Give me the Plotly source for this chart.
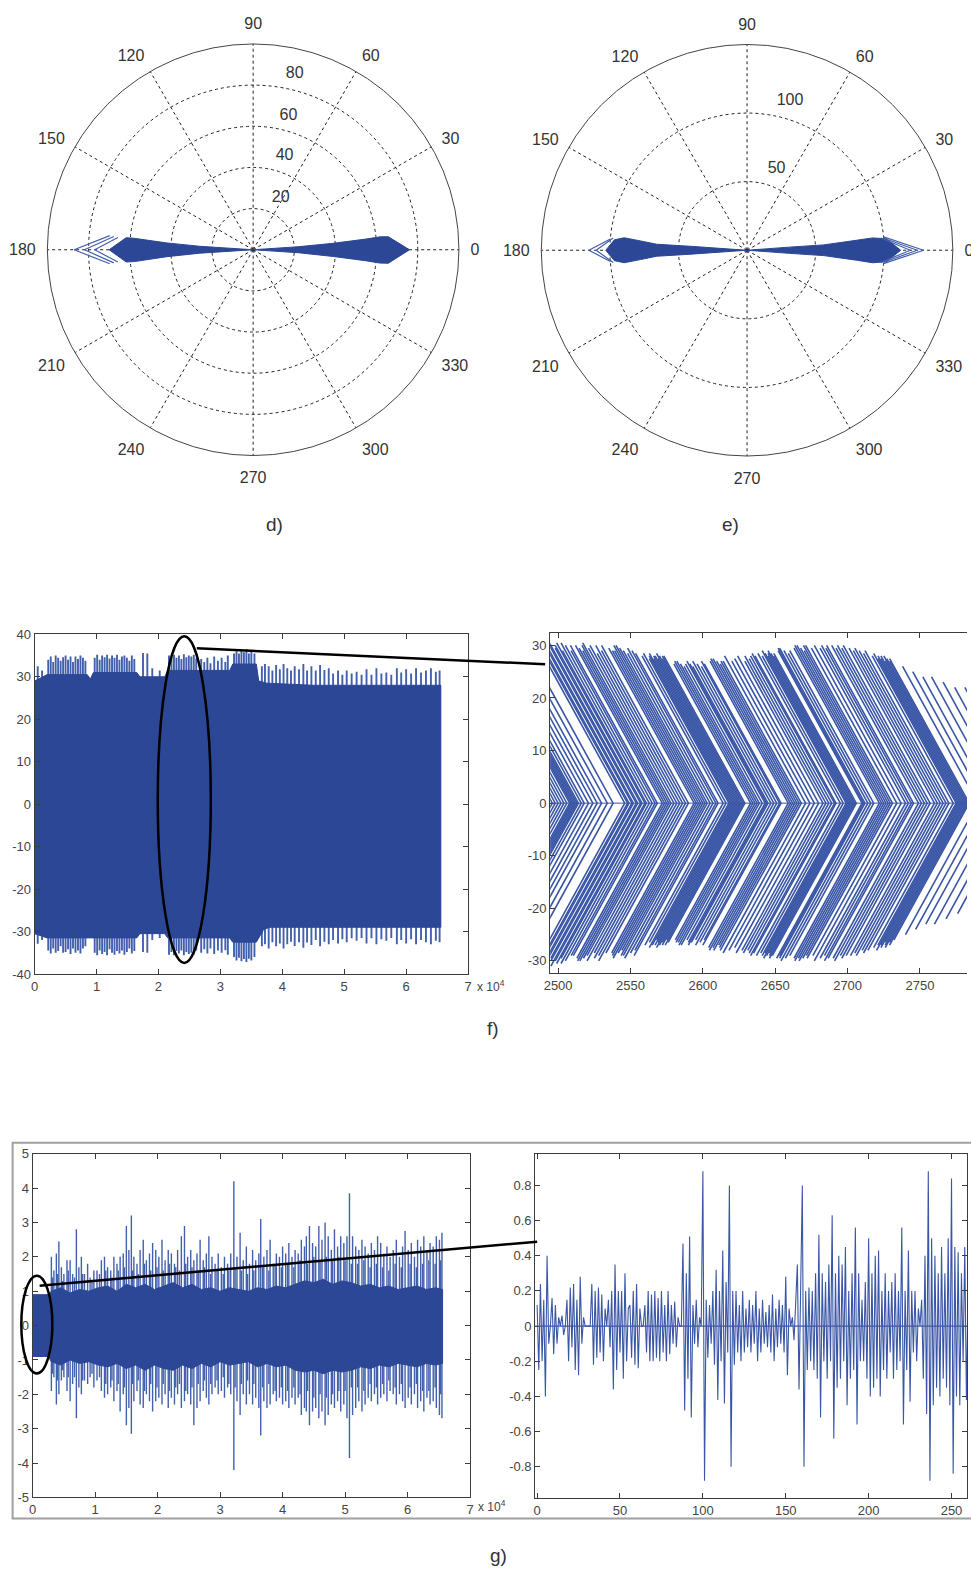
import plotly.graph_objects as go

W, H = 971, 1569

# ---------------- d) polar data ----------------
d_right_r = [0, 22, 39, 55, 62, 66, 76, 66, 62, 55, 39, 22, 0]
d_right_theta = [0, 3.8, 4.6, 5.4, 5.8, 5.5, 0, -5.7, -6.0, -5.6, -4.8, -3.8, 0]
d_left_r = [0, 26, 42, 58, 62, 70, 62, 58, 42, 26, 0]
d_left_theta = [180, 176.3, 175.5, 174.5, 174.6, 180, 185.5, 185.7, 184.6, 183.7, 180]
d_tip_r = [70, 87, 70, None, 68, 82, 68, None, 66, 77, 66]
d_tip_theta = [174.4, 180, 185.6, None, 174.6, 180, 185.4, None, 174.8, 180, 185.2]
d_ring_text = ["20", "40", "60", "80", "100"]
d_ring_r = [28.6, 48.1, 67.3, 87.8, 108.5]
d_ring_theta = [62, 71.5, 75.2, 76.7, 76.2]

# ---------------- e) polar data ----------------
e_right_r = [0, 31, 56, 80, 92, 102, 112, 102, 92, 80, 56, 31, 0]
e_right_theta = [0, 4.2, 4.0, 5.2, 5.6, 4.7, 0, -4.7, -5.7, -5.2, -4.0, -4.2, 0]
e_rtip_r = [100, 128.7, 100, None, 100, 124, 100, None, 98, 119, 98]
e_rtip_theta = [5.6, 0, -5.6, None, 5.0, 0, -5.0, None, 5.2, 0, -5.2]
e_left_r = [0, 41, 66, 78, 90, 97, 103, 97, 90, 78, 66, 41, 0]
e_left_theta = [180, 176, 176.2, 175.0, 174.2, 175.5, 180, 184.5, 185.8, 185.0, 183.8, 184, 180]
e_ltip_r = [100, 115.3, 100, None, 98, 110, 98]
e_ltip_theta = [175.3, 180, 184.7, None, 174.8, 180, 185.2]
e_ring_text = ["50", "100", "150"]
e_ring_r = [63, 113, 163]
e_ring_theta = [70, 73.9, 76.3]

ang_vals = [0, 30, 60, 90, 120, 150, 180, 210, 240, 270, 300, 330]
ang_text = [str(v) for v in ang_vals]

# ---------------- f) left: full record ----------------
fl_core_top_x = [0, 0.2, 0.85, 0.9, 0.95, 1.65, 1.7, 2.1, 2.15, 3.15, 3.2, 3.58, 3.62, 3.75, 4.5, 5.5, 6.56]
fl_core_top_y = [29, 30.5, 30.5, 29.5, 31, 31, 30, 30, 31.5, 31.5, 33, 33, 29, 28.5, 28, 28, 28]
fl_core_bot_x = [0, 0.2, 1.65, 1.7, 2.1, 2.15, 3.15, 3.2, 3.58, 3.7, 3.8, 5.0, 6.56]
fl_core_bot_y = [-30.5, -31.5, -31.5, -30.5, -30.5, -31.5, -31.5, -32.5, -32.5, -29.5, -29, -29, -29]
fl_spike_x = [0.05, 0.12,
              0.22, 0.26, 0.30, 0.34, 0.38, 0.42, 0.46, 0.50, 0.54, 0.58, 0.62, 0.66, 0.70, 0.74, 0.78, 0.82,
              0.97, 1.01, 1.05, 1.09, 1.13, 1.17, 1.21, 1.25, 1.29, 1.33, 1.37, 1.41, 1.45, 1.49, 1.53, 1.57, 1.61,
              1.75, 1.82, 1.90, 2.02,
              2.17, 2.21, 2.25, 2.29, 2.33, 2.37, 2.41, 2.45, 2.49, 2.53, 2.57, 2.61,
              2.69, 2.74, 2.79, 2.84, 2.90, 2.96, 3.02, 3.08, 3.12,
              3.22, 3.26, 3.30, 3.34, 3.38, 3.42, 3.46, 3.50, 3.55,
              3.67, 3.72, 3.78, 3.84, 3.90, 3.96, 4.02, 4.08, 4.14, 4.20, 4.27, 4.34, 4.40, 4.47, 4.54, 4.61,
              4.68, 4.75, 4.82, 4.90, 4.97, 5.04, 5.12, 5.20, 5.28, 5.36, 5.44, 5.52, 5.60, 5.68, 5.76, 5.85,
              5.92, 6.00, 6.08, 6.16, 6.24, 6.32, 6.40, 6.48, 6.54]
fl_spike_top = [32.5, 31.5,
                34, 34.8, 33.5, 35, 34.5, 33.8, 34.6, 35, 34, 34.8, 33.5, 34.8, 34.2, 35, 34.5, 33.8,
                34.5, 35.2, 34, 35, 34.6, 35.2, 34.3, 35, 34.5, 35.2, 34, 34.8, 35, 34.5, 33.8, 35, 34.2,
                35.6, 35.5, 32, 31.5,
                35, 34.5, 35.2, 34.5, 35, 34.2, 35.3, 34.6, 35, 34.8, 35.2, 34.3,
                34.2, 33.5, 34.5, 33.2, 34.8, 33.8, 34.5, 33.5, 35,
                35.5, 36, 35.5, 36.3, 35.8, 36.5, 35.5, 36, 35.5,
                32.5, 33, 32.5, 31.5, 32.8, 31.8, 33, 32, 31.5, 32.5, 31.8, 33, 31.5, 32.5, 31.5, 32.8,
                31.6, 32, 30.8, 31.5, 30.5, 31.5, 30.8, 31.2, 30.5, 31.8, 30.5, 32, 30.8, 31, 30.5, 32,
                31, 31.8, 30.8, 32, 31, 31.5, 32, 31.2, 31.5]
fl_spike_bot = [-32.9, -32,
                -34.5, -35.2, -34, -35, -34.6, -33.5, -35, -34.8, -34.2, -35.3, -34, -35, -34.5, -35.2, -34, -33.5,
                -35, -35.6, -34.5, -35.3, -34.8, -35.6, -34.2, -35, -35.5, -34.6, -35.2, -34.5, -35.5, -34.8, -34, -35.2, -34.6,
                -34.8, -35, -32, -31.5,
                -35.5, -34.8, -35.6, -34.6, -35.2, -34.5, -35.6, -34.8, -35.3, -35, -35.5, -34.5,
                -35, -34.2, -35.2, -34, -35.3, -34.5, -35, -34.4, -35.5,
                -36, -36.8, -36.2, -37, -36.5, -37.2, -36.4, -36.8, -36,
                -33.5, -33, -34, -32.5, -33.5, -32.8, -34, -33, -32.4, -33.4, -32.5, -33.8, -32.6, -33.2, -32, -33.5,
                -32.4, -33, -32, -32.8, -31.8, -32.5, -31.6, -32.2, -31.5, -32.8, -31.6, -33, -31.8, -32.2, -31.5, -33,
                -32, -32.8, -31.8, -33, -32, -32.5, -33, -32.2, -32.5]

# ---------------- f) right: zoomed chevrons ----------------
fr_apex = [2496, 2498, 2500, 2502, 2504, 2506, 2508, 2509, 2510, 2511, 2512, 2513, 2514, 2516, 2518, 2521, 2524, 2527, 2530, 2534, 2538,
           2546, 2548, 2549, 2551, 2552, 2554, 2555, 2557, 2558, 2560, 2561, 2563, 2565, 2567, 2568.5,
           2572, 2573.5, 2575, 2576.5, 2578, 2580, 2582, 2584, 2586, 2588, 2590,
           2594, 2595.5, 2597, 2598.5, 2600, 2601.5, 2603, 2605, 2607, 2609, 2610.5,
           2614, 2616, 2618, 2619, 2620, 2621, 2622, 2623, 2624, 2625, 2626, 2627, 2628, 2629,
           2633, 2634.5, 2636, 2637.5, 2639, 2641, 2643, 2644, 2645, 2647, 2649, 2651, 2653, 2654,
           2659, 2660.5, 2662, 2663.5, 2665, 2666.5, 2668, 2671, 2674, 2677, 2680, 2683, 2685, 2687, 2689, 2691, 2692,
           2695, 2697, 2699, 2700, 2701, 2702, 2703, 2704, 2705, 2706,
           2710, 2711, 2712, 2714, 2716, 2718,
           2722, 2723.5, 2725, 2726.5, 2728, 2729.5, 2731, 2734, 2737, 2740, 2742, 2744, 2745.5,
           2749, 2751, 2753, 2755, 2757,
           2760, 2762, 2764, 2766, 2768, 2770,
           2773, 2775, 2776, 2777, 2778, 2779, 2780, 2781, 2782, 2783, 2784,
           2790, 2795, 2800, 2806, 2812, 2818, 2825, 2832, 2840]
fr_amp_up = [27, 31, 29, 30, 28, 30, 29, 31, 28, 30, 29, 27, 30, 29, 31, 28, 30, 29, 31, 30, 29,
             31, 30.5, 30, 29, 29.5, 30.5, 31, 29.5, 30, 30.5, 29, 30.5, 30, 29, 30,
             30, 29.5, 29, 30, 30.5, 29.5, 30, 28.5, 30, 29, 30,
             29.5, 29, 29, 30, 30, 29.5, 29, 28.5, 29.5, 29, 28.5,
             28, 28.5, 27.5, 28, 28.5, 27.5, 28, 28, 27.5, 28.5, 28, 27.5, 28, 28,
             26.5, 27, 27, 26.5, 26, 26.5, 27, 26.5, 26, 27, 26.5, 26, 27, 26.5,
             27, 27.5, 27.5, 27, 26.5, 27, 27, 28, 27, 27.5, 28, 27, 28, 27.5, 28, 28.5, 28,
             28.5, 28, 29, 28.5, 28, 28.5, 29, 28.5, 28, 28.5,
             29, 29.5, 29.5, 29, 28.5, 29,
             29.5, 30, 30, 29.5, 29, 30, 30, 29.5, 30, 29.5, 30, 29.5, 30,
             30, 29.5, 30, 29.5, 30,
             29.5, 29, 29.5, 29, 28.5, 29,
             28, 28.5, 27.5, 28, 27.5, 28, 27, 28, 27.5, 27, 27.5,
             26, 25, 24, 24, 23, 22, 22, 21, 21]
fr_amp_dn = [29, 30, 28, 31, 29, 30, 28, 30, 29, 31, 28, 30, 29, 30, 28, 31, 29, 30, 28, 30, 31,
             30.5, 30, 31, 30.5, 30, 29.5, 30, 31, 30, 30.5, 29.5, 30.5, 30, 29, 29,
             29.5, 30, 30, 29.5, 29, 30, 28.5, 29.5, 29, 30, 28.5,
             28.5, 29, 29.5, 28.5, 28, 29, 29, 29.5, 28.5, 28, 29,
             27, 26.5, 27.5, 27, 26, 27, 26.5, 27.5, 27, 26.5, 27, 26, 27, 26.5,
             26, 26.5, 26.5, 27, 27, 26, 26.5, 27, 26.5, 26, 27, 26.5, 26, 27,
             27.5, 28, 27.5, 28, 27, 27.5, 28, 28.5, 28, 27.5, 28.5, 28, 28.5, 28, 28.5, 29, 28.5,
             29, 28.5, 29, 28.5, 29.5, 29, 28.5, 29, 29.5, 29,
             29.5, 29, 29.5, 30, 29.5, 29,
             29.5, 30, 29.5, 30, 29.5, 29, 29.5, 29, 30, 29.5, 29, 30, 29.5,
             29.5, 30, 29, 29.5, 29,
             29, 28.5, 29, 28, 28.5, 28,
             27.5, 27, 28, 27, 27.5, 26.5, 27, 27.5, 26.5, 27, 26,
             25, 24, 23, 23, 22, 21, 21, 20, 20]
fr_run = 2.0  # x-units travelled per unit of amplitude along each chevron arm

# ---------------- g) left: full record ----------------
gl_core_x = [0, 0.25, 0.3, 0.45, 0.6, 0.75, 0.9, 1.05, 1.2, 1.35, 1.5, 1.65, 1.8, 1.95, 2.1, 2.25, 2.4, 2.55,
             2.7, 2.85, 3.0, 3.15, 3.3, 3.45, 3.6, 3.75, 3.9, 4.05, 4.2, 4.35, 4.5, 4.65, 4.8, 4.95, 5.1,
             5.25, 5.4, 5.55, 5.7, 5.85, 6.0, 6.15, 6.3, 6.45, 6.56]
gl_core_top = [0.9, 0.9, 1.0, 1.1, 0.95, 1.05, 1.0, 1.1, 1.15, 1.0, 1.2, 1.1, 1.2, 1.05, 1.15, 1.25, 1.1, 1.2,
               1.05, 1.1, 1.0, 1.1, 1.05, 1.0, 1.1, 1.05, 1.15, 1.1, 1.2, 1.3, 1.25, 1.35, 1.2, 1.3, 1.25,
               1.15, 1.2, 1.1, 1.15, 1.05, 1.1, 1.15, 1.05, 1.1, 1.05]
gl_core_bot = [-0.9, -0.9, -1.05, -1.15, -1.0, -1.1, -1.05, -1.15, -1.2, -1.1, -1.25, -1.15, -1.3, -1.15, -1.25,
               -1.3, -1.15, -1.25, -1.1, -1.2, -1.05, -1.15, -1.1, -1.05, -1.2, -1.1, -1.2, -1.15, -1.3, -1.35,
               -1.3, -1.4, -1.3, -1.35, -1.3, -1.2, -1.25, -1.15, -1.2, -1.1, -1.15, -1.2, -1.1, -1.15, -1.1]
gl_spike_x = [0.30, 0.34, 0.38, 0.42, 0.46, 0.50, 0.55, 0.60, 0.64, 0.70, 0.74, 0.78, 0.83, 0.88, 0.92, 0.98,
              1.03, 1.10, 1.15, 1.20, 1.25, 1.30, 1.35, 1.40, 1.45, 1.50, 1.54, 1.58, 1.62, 1.67, 1.72, 1.77,
              1.82, 1.87, 1.92, 1.97, 2.02, 2.07, 2.12, 2.17, 2.22, 2.27, 2.32, 2.38, 2.43, 2.48, 2.53, 2.58,
              2.63, 2.68, 2.73, 2.78, 2.82, 2.87, 2.92, 2.97, 3.02, 3.07, 3.12, 3.17, 3.22, 3.27, 3.32, 3.37,
              3.42, 3.47, 3.52, 3.57, 3.62, 3.65, 3.70, 3.75, 3.80, 3.85, 3.90, 3.95, 4.00, 4.05, 4.10, 4.15,
              4.20, 4.25, 4.30, 4.35, 4.38, 4.43, 4.48, 4.53, 4.58, 4.63, 4.68, 4.73, 4.78, 4.83, 4.88, 4.93,
              4.98, 5.03, 5.07, 5.12, 5.17, 5.22, 5.27, 5.32, 5.37, 5.42, 5.47, 5.52, 5.57, 5.62, 5.67, 5.72,
              5.77, 5.82, 5.87, 5.92, 5.96, 6.01, 6.06, 6.11, 6.16, 6.21, 6.26, 6.31, 6.36, 6.41, 6.46, 6.51, 6.55]
gl_spike_top = [2.0, 1.6, 2.1, 2.45, 1.7, 1.5, 1.9, 1.9, 1.5, 2.8, 1.7, 2.0, 1.5, 1.8, 1.4, 1.6,
                1.6, 1.9, 2.0, 1.7, 1.6, 2.0, 1.8, 2.0, 2.1, 2.9, 2.2, 3.2, 2.0, 1.8, 2.2, 2.5,
                1.9, 2.1, 2.4, 2.2, 2.0, 2.5, 1.9, 2.2, 2.1, 1.8, 2.2, 2.6, 2.9, 2.0, 2.2, 1.9,
                2.1, 2.5, 1.9, 2.1, 2.6, 2.0, 1.8, 2.1, 1.7, 2.0, 1.8, 2.1, 4.2, 2.0, 2.7, 1.9,
                2.3, 1.8, 2.2, 1.9, 2.1, 3.1, 2.0, 2.2, 2.5, 1.8, 2.1, 2.0, 2.3, 2.1, 2.4, 2.0,
                2.2, 2.1, 2.5, 2.3, 2.6, 2.9, 2.4, 2.3, 2.9, 2.5, 3.0, 2.6, 2.2, 2.8, 2.3, 2.6,
                2.4, 2.6, 3.85, 2.6, 2.3, 2.2, 2.5, 2.3, 2.1, 2.4, 2.2, 2.6, 2.4, 2.1, 2.3, 2.0,
                2.2, 2.5, 2.0, 2.3, 2.75, 2.2, 2.4, 2.0, 2.5, 2.3, 2.6, 2.2, 2.4, 2.3, 2.6, 2.5, 2.7]
gl_spike_bot = [-1.9, -1.5, -2.3, -2.0, -1.6, -1.5, -1.9, -2.2, -1.7, -2.7, -1.8, -2.0, -1.6, -1.7, -1.5, -1.8,
                -1.6, -1.9, -2.1, -2.0, -1.8, -2.2, -1.9, -2.5, -2.0, -2.9, -2.4, -3.15, -2.2, -1.9, -2.3, -2.4,
                -2.0, -2.2, -2.5, -2.2, -2.1, -2.3, -2.0, -2.4, -2.1, -2.3, -2.0, -2.4, -2.2, -2.0, -2.3, -2.9,
                -2.4, -2.2, -1.9, -2.1, -2.3, -2.0, -1.8, -2.0, -1.9, -2.1, -1.8, -2.0, -4.2, -2.2, -2.6, -2.0,
                -2.3, -2.0, -2.3, -2.1, -2.4, -3.2, -2.2, -2.4, -2.3, -2.0, -2.2, -2.1, -2.3, -2.2, -2.4, -2.1,
                -2.3, -2.1, -2.6, -2.4, -2.5, -2.9, -2.5, -2.4, -2.7, -2.5, -2.9, -2.6, -2.3, -2.4, -2.2, -2.5,
                -2.3, -2.7, -3.85, -2.6, -2.4, -2.2, -2.5, -2.3, -2.1, -2.2, -2.0, -2.3, -2.1, -2.0, -2.2, -1.9,
                -2.0, -2.3, -2.0, -2.2, -2.4, -2.1, -2.3, -2.0, -2.4, -2.2, -2.5, -2.1, -2.3, -2.2, -2.4, -2.6, -2.7]
gl_mid_x = [0.32, 0.40, 0.48, 0.57, 0.67, 0.80, 0.95, 1.07, 1.17, 1.27, 1.37, 1.47, 1.60, 1.69, 1.79, 1.89,
            1.99, 2.09, 2.19, 2.29, 2.35, 2.45, 2.55, 2.65, 2.75, 2.85, 2.95, 3.05, 3.14, 3.24, 3.34, 3.44,
            3.54, 3.68, 3.78, 3.88, 3.98, 4.08, 4.18, 4.28, 4.40, 4.50, 4.60, 4.70, 4.80, 4.90, 5.00, 5.10,
            5.20, 5.30, 5.40, 5.50, 5.60, 5.70, 5.80, 5.90, 6.04, 6.14, 6.24, 6.34, 6.44, 6.53]
gl_mid_top = [1.4, 1.5, 1.3, 1.6, 1.4, 1.5, 1.3, 1.5, 1.6, 1.4, 1.6, 1.7, 1.6, 1.5, 1.8, 1.6,
              1.7, 1.6, 1.8, 1.7, 1.6, 1.8, 1.7, 1.6, 1.7, 1.5, 1.6, 1.5, 1.6, 1.7, 1.6, 1.5,
              1.6, 1.7, 1.6, 1.8, 1.7, 1.8, 1.7, 1.9, 1.8, 2.0, 1.9, 2.0, 1.9, 2.0, 1.9, 1.8,
              1.8, 1.9, 1.7, 1.8, 1.7, 1.6, 1.8, 1.7, 1.8, 1.7, 1.8, 1.9, 1.8, 1.9]
gl_mid_bot = [-1.4, -1.6, -1.3, -1.5, -1.5, -1.6, -1.4, -1.5, -1.7, -1.6, -1.7, -1.8, -1.7, -1.6, -1.9, -1.7,
              -1.8, -1.7, -1.9, -1.8, -1.7, -1.9, -1.8, -1.7, -1.6, -1.7, -1.6, -1.5, -1.7, -1.8, -1.7, -1.6,
              -1.7, -1.8, -1.7, -1.9, -1.8, -1.9, -1.8, -2.0, -1.9, -2.1, -2.0, -2.1, -2.0, -1.9, -1.9, -1.8,
              -1.8, -1.9, -1.7, -1.8, -1.7, -1.6, -1.8, -1.7, -1.8, -1.7, -1.9, -1.9, -1.8, -2.0]

# ---------------- g) right: first 263 samples ----------------
gr_y = [0.12, -0.25, 0.24, -0.2, 0.15, -0.40, 0.40, -0.1, 0.0, 0.16, -0.16, 0.12, -0.1, 0.05, 0, 0.06, -0.05, 0,
        0.15, -0.2, 0.22, -0.12, 0.24, -0.25, 0.15, -0.28, 0.28, -0.1, 0.05, 0, 0, 0, 0,
        0.24, -0.22, 0.2, -0.18, 0.22, -0.15, 0.18, -0.2, 0.1, 0.0, 0.15, -0.12, 0.2, -0.36, 0.35, -0.25,
        0.2, -0.15, 0.2, -0.3, 0.3, -0.2, 0.1, 0.12, -0.18, 0.2, -0.22, 0.24, -0.24, 0.1, 0, 0,
        0.12, -0.15, 0.2, -0.2, 0.18, -0.2, 0.2, -0.18, 0.16, -0.2, 0.2, -0.15, 0.12, -0.2, 0.2, -0.16,
        0.12, -0.1, 0.14, -0.12, 0.05, 0, 0,
        0.47, -0.48, 0.3, -0.3, 0.51, -0.52, 0.12, -0.1, 0.15, -0.12, 0.05, 0,
        0.88, -0.88, 0.15, -0.18, 0.12, -0.1, 0.2, -0.22, 0.32, -0.42, 0.2, -0.2, 0.43, -0.44, 0.25, -0.15,
        0.80, -0.80, 0.2, -0.22, 0.2, -0.15, 0.12, -0.2, 0.2, -0.15, 0.1, -0.12, 0.15, -0.15, 0.12, -0.1,
        0.2, -0.2, 0.1, -0.15, 0.15, -0.1, 0.08, -0.12, 0.12, -0.15, 0.18, -0.2, 0.1, -0.12, 0.15, -0.1,
        0.12, -0.15, 0.28, -0.28, 0.1, 0, 0.05, -0.08, 0.1, 0.35, -0.36, 0.3, 0.8, -0.8, 0.2, -0.25,
        0.22, -0.2, 0.2, -0.25, 0.3, -0.3, 0.52, -0.52, 0.3, -0.2, 0.25, -0.3, 0.35, -0.2, 0.63, -0.64,
        0.3, -0.35, 0.4, -0.3, 0.35, -0.2, 0.45, -0.45, 0.2, -0.3, 0.3, -0.25, 0.56, -0.56, 0.3, -0.2,
        0.15, -0.2, 0.25, -0.3, 0.5, -0.4, 0.3, -0.35, 0.4, -0.3, 0.43, -0.4, 0.2, -0.25, 0.3, -0.3,
        0.2, -0.15, 0.25, -0.3, 0.3, -0.25, 0.2, -0.2, 0.56, -0.56, 0.2, -0.25, 0.43, -0.43, 0.2, -0.15,
        0.2, -0.2, 0.1, 0, 0.15, -0.3, 0.4, -0.5, 0.88, -0.88, 0.5, -0.45, 0.4, -0.35, 0.3, -0.4,
        0.45, -0.3, 0.3, -0.35, 0.5, -0.45, 0.84, -0.84, 0.45, -0.4, 0.42, -0.45, 0.3, -0.2, 0.45, -0.42,
        0.2, -0.25, 0.2]

BLUE = "#2b4796"
BLUE_L = "#4360ad"
AX = "#3c3c3c"
TXT = "#444444"
FONT = "Liberation Sans, Arial, sans-serif"

fig = go.Figure()

# ---- polar d
fig.add_trace(go.Scatterpolar(r=d_right_r, theta=d_right_theta, mode="lines", fill="toself",
                              fillcolor=BLUE, line=dict(color=BLUE, width=1), subplot="polar", showlegend=False))
fig.add_trace(go.Scatterpolar(r=d_left_r, theta=d_left_theta, mode="lines", fill="toself",
                              fillcolor=BLUE, line=dict(color=BLUE, width=1), subplot="polar", showlegend=False))
fig.add_trace(go.Scatterpolar(r=d_tip_r, theta=d_tip_theta, mode="lines", connectgaps=False,
                              line=dict(color=BLUE_L, width=1.2), subplot="polar", showlegend=False))
fig.add_trace(go.Scatterpolar(r=d_ring_r, theta=d_ring_theta, mode="text", text=d_ring_text,
                              textfont=dict(family=FONT, size=16, color="#333"), cliponaxis=False,
                              subplot="polar", showlegend=False))
# ---- polar e
fig.add_trace(go.Scatterpolar(r=e_right_r, theta=e_right_theta, mode="lines", fill="toself",
                              fillcolor=BLUE, line=dict(color=BLUE, width=1), subplot="polar2", showlegend=False))
fig.add_trace(go.Scatterpolar(r=e_left_r, theta=e_left_theta, mode="lines", fill="toself",
                              fillcolor=BLUE, line=dict(color=BLUE, width=1), subplot="polar2", showlegend=False))
fig.add_trace(go.Scatterpolar(r=e_rtip_r, theta=e_rtip_theta, mode="lines", connectgaps=False,
                              line=dict(color=BLUE_L, width=1.2), subplot="polar2", showlegend=False))
fig.add_trace(go.Scatterpolar(r=e_ltip_r, theta=e_ltip_theta, mode="lines", connectgaps=False,
                              line=dict(color=BLUE_L, width=1.2), subplot="polar2", showlegend=False))
fig.add_trace(go.Scatterpolar(r=e_ring_r, theta=e_ring_theta, mode="text", text=e_ring_text,
                              textfont=dict(family=FONT, size=16, color="#333"), cliponaxis=False,
                              subplot="polar2", showlegend=False))

# ---- f left
sx, sy = [], []
for x, t, b in zip(fl_spike_x, fl_spike_top, fl_spike_bot):
    sx += [x, x, None, x, x, None]
    sy += [0, t, None, 0, b, None]
fig.add_trace(go.Scatter(x=sx, y=sy, mode="lines", line=dict(color=BLUE_L, width=1.9),
                         xaxis="x", yaxis="y", showlegend=False))
fig.add_trace(go.Scatter(x=fl_core_top_x + fl_core_bot_x[::-1], y=fl_core_top_y + fl_core_bot_y[::-1],
                         mode="lines", fill="toself", fillcolor=BLUE, line=dict(color=BLUE, width=1),
                         xaxis="x", yaxis="y", showlegend=False))

# ---- f right chevrons
cx, cy = [], []
for a, u, d in zip(fr_apex, fr_amp_up, fr_amp_dn):
    cx += [a - fr_run * u, a, a - fr_run * d, None]
    cy += [u, 0, -d, None]
fig.add_trace(go.Scatter(x=cx, y=cy, mode="lines", line=dict(color="#3a56a6", width=1.6),
                         xaxis="x2", yaxis="y2", showlegend=False))

# ---- g left
gx, gy = [], []
for x, t, b in zip(gl_spike_x, gl_spike_top, gl_spike_bot):
    gx += [x, x, None, x, x, None]
    gy += [0, t, None, 0, b, None]
for x, t, b in zip(gl_mid_x, gl_mid_top, gl_mid_bot):
    gx += [x, x, None, x, x, None]
    gy += [0, t, None, 0, b, None]
fig.add_trace(go.Scatter(x=gx, y=gy, mode="lines", line=dict(color=BLUE_L, width=1.4),
                         xaxis="x3", yaxis="y3", showlegend=False))
fig.add_trace(go.Scatter(x=gl_core_x + gl_core_x[::-1], y=gl_core_top + gl_core_bot[::-1],
                         mode="lines", fill="toself", fillcolor=BLUE, line=dict(color=BLUE, width=1),
                         xaxis="x3", yaxis="y3", showlegend=False))

# ---- g right
fig.add_trace(go.Scatter(x=list(range(len(gr_y))), y=gr_y, mode="lines",
                         line=dict(color="#3a56a6", width=1.1), xaxis="x4", yaxis="y4", showlegend=False))

# page-position helpers (reference pixel -> paper fraction, with a small
# correction for the way the page is captured)
SX, OX = 0.9887, 6.4
SY, OY = 0.9915, 5.0
RIGHT_EDGE = W * SX + OX  # reference pixel that maps onto the paper's right edge


def px(x):
    return min(1.0, max(0.0, ((x - OX) / SX) / W))


def pxs(x):
    return ((x - OX) / SX) / W


def py(y):
    return 1 - ((y - OY) / SY) / H


def axis(domain, rng, vals, anchor, mirror="ticks"):
    return dict(domain=domain, range=rng, tickmode="array", tickvals=vals, ticktext=["%g" % v for v in vals],
                showline=True, linecolor=AX, linewidth=1, mirror=mirror, ticks="inside",
                ticklen=5, tickcolor=AX, showgrid=False, zeroline=False, anchor=anchor,
                tickfont=dict(family=FONT, size=13, color=TXT))


x7 = [0, 1, 2, 3, 4, 5, 6, 7]
fy = [-40, -30, -20, -10, 0, 10, 20, 30, 40]
frx = [2500, 2550, 2600, 2650, 2700, 2750]
fry = [-30, -20, -10, 0, 10, 20, 30]
gy5 = [-5, -4, -3, -2, -1, 0, 1, 2, 3, 4, 5]
grx = [0, 50, 100, 150, 200, 250]
gry = [-0.8, -0.6, -0.4, -0.2, 0, 0.2, 0.4, 0.6, 0.8]


def polar(dom_x, dom_y, rmax, rvals):
    return dict(domain=dict(x=dom_x, y=dom_y), bgcolor="white",
                radialaxis=dict(range=[0, rmax], tickmode="array", tickvals=rvals, showticklabels=False,
                                ticks="", showline=False, gridcolor="#222", griddash="dot", gridwidth=1.2),
                angularaxis=dict(tickmode="array", tickvals=ang_vals, ticktext=ang_text,
                                 direction="counterclockwise", rotation=0, showline=True, linecolor="#444",
                                 linewidth=1, gridcolor="#222", griddash="dot", gridwidth=1.2,
                                 ticks="outside", ticklen=8, tickcolor="rgba(0,0,0,0)",
                                 tickfont=dict(family=FONT, size=16, color="#333")))


fig.update_layout(
    width=W, height=H, autosize=False, margin=dict(l=0, r=0, t=0, b=0),
    paper_bgcolor="white", plot_bgcolor="white", showlegend=False,
    polar=polar([px(47.3), px(459.3)], [py(454), py(42)], 100, [20, 40, 60, 80]),
    polar2=polar([px(540.7), px(952.7)], [py(454.5), py(42.5)], 150, [50, 100]),
    xaxis=axis([px(35), px(468)], [0, 7], x7, "y"),
    yaxis=axis([py(973), py(633)], [-40, 40], fy, "x"),
    xaxis2=axis([px(550), 1.0], [2494.5, 2494.5 + (RIGHT_EDGE - 550) / 1.446], frx, "y2"),
    yaxis2=axis([py(972), py(632)], [-32.3, 32.3], fry, "x2", mirror=False),
    xaxis3=axis([px(33), px(470)], [0, 7], x7, "y3"),
    yaxis3=axis([py(1497), py(1153)], [-5, 5], gy5, "x3"),
    xaxis4=axis([px(535), 1.0], [-1.2, -1.2 + (RIGHT_EDGE - 1 - 535) / 1.652], grx, "y4"),
    yaxis4=axis([py(1498), py(1153)], [-0.98, 0.98], gry, "x4"),
)

shapes = [
    dict(type="line", xref="x2 domain", yref="y2", x0=0, x1=1, y0=0, y1=0, line=dict(color="#3a56a6", width=1)),
    dict(type="line", xref="x4 domain", yref="y4", x0=0, x1=1, y0=0, y1=0, line=dict(color="#3a56a6", width=1.2)),
    dict(type="circle", xref="paper", yref="paper", x0=pxs(158), x1=pxs(211), y0=py(962), y1=py(635),
         line=dict(color="black", width=2.5)),
    dict(type="line", xref="paper", yref="paper", x0=pxs(197), y0=py(647), x1=pxs(545), y1=py(663),
         line=dict(color="black", width=2.5)),
    dict(type="circle", xref="paper", yref="paper", x0=pxs(21.7), x1=pxs(52.7), y0=py(1373), y1=py(1275),
         line=dict(color="black", width=2.5)),
    dict(type="line", xref="paper", yref="paper", x0=pxs(40), y0=py(1285), x1=pxs(537), y1=py(1241),
         line=dict(color="black", width=2.5)),
    dict(type="rect", xref="paper", yref="paper", x0=pxs(13), x1=pxs(995), y0=py(1518), y1=py(1142),
         line=dict(color="#a0a0a0", width=2)),
]
fig.update_layout(shapes=shapes)

ann = []
for t, x, y in [("d)", 275, 523), ("e)", 730, 523), ("f)", 493, 1028), ("g)", 498, 1555)]:
    ann.append(dict(text=t, x=pxs(x), y=py(y), xref="paper", yref="paper", showarrow=False,
                    xanchor="center", yanchor="middle", font=dict(family=FONT, size=19, color="#333")))
for x, y in [(475, 985), (476, 1506)]:
    ann.append(dict(text="x 10<sup>4</sup>", x=pxs(x), y=py(y), xref="paper", yref="paper", showarrow=False,
                    xanchor="left", yanchor="middle", font=dict(family=FONT, size=12, color=TXT)))
fig.update_layout(annotations=ann)

fig.write_html("out.html", config={"displayModeBar": False},
               post_script="document.body.style.margin='0px';")
